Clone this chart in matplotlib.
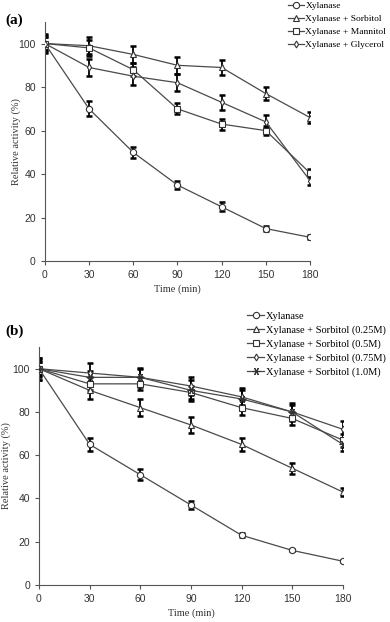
import matplotlib
matplotlib.use('Agg')
import matplotlib.pyplot as plt
import numpy as np

# Время инкубации (мин)
time_min = [0, 30, 60, 90, 120, 150, 180]

# Панель (a)
a_labels = ['Xylanase', 'Xylanase + Sorbitol', 'Xylanase + Mannitol', 'Xylanase + Glycerol']
a_xyl = [100, 70, 50, 35, 25, 15, 11]
a_xyl_err = [3, 3.5, 2.5, 2, 2, 1, 1]
a_sorb = [100, 99, 95, 90, 89, 77, 66]
a_sorb_err = [3, 4, 4, 4, 3.5, 3, 2.5]
a_mann = [100, 98, 88, 70, 63, 60, 40.5]
a_mann_err = [4, 3.5, 3, 2.5, 2.5, 2, 2]
a_glyc = [100, 89, 85, 82, 73, 64, 37]
a_glyc_err = [4.5, 4, 4, 4, 3.5, 3, 2]

# Панель (b)
b_labels = ['Xylanase', 'Xylanase + Sorbitol (0.25M)', 'Xylanase + Sorbitol (0.5M)',
            'Xylanase + Sorbitol (0.75M)', 'Xylanase + Sorbitol (1.0M)']
b_xyl = [100, 65, 51, 37, 23, 16, 11]
b_xyl_err = [5, 3, 2.5, 2, 1, 0.5, 0.5]
b_s025 = [100, 90, 82, 74, 65, 54, 43]
b_s025_err = [4, 4, 4, 3.5, 3, 2.5, 2]
b_s05 = [100, 93, 93, 89, 82, 77, 67]
b_s05_err = [3, 3, 3, 3, 3.5, 3, 3]
b_s075 = [100, 98, 96, 92, 87, 80, 72]
b_s075_err = [5, 4.5, 4.5, 4, 4, 4, 4]
b_s10 = [100, 96, 96, 90, 86, 80, 65]
b_s10_err = [3, 3, 4, 5, 4, 3, 3]

serif = 'Liberation Serif'
sans = 'Liberation Sans'
line_col = '#4a4a4a'

fig = plt.figure(figsize=(3.9, 6.22), dpi=100)
ax_a = fig.add_axes([0.115, 0.580, 0.68, 0.385])
ax_b = fig.add_axes([0.100, 0.0595, 0.779, 0.3825])

sizes = {'o': 4.5, '^': 4.5, 's': 4.5, 'd': 3.5, (6, 2, 90): 5.5}


def draw(ax, series, labels, markers, legend_size, legend_anchor, spacing, ylab_x):
    handles = []
    for (vals, errs), lab, m in zip(series, labels, markers):
        ax.errorbar(time_min, vals, yerr=errs, fmt='none', ecolor='black',
                    elinewidth=1.3, capsize=2, capthick=1.8, zorder=2)
        h, = ax.plot(time_min, vals, color=line_col, lw=0.9, marker=m,
                     markersize=sizes[m], markerfacecolor='white',
                     markeredgecolor='#333333', markeredgewidth=0.8,
                     label=lab, zorder=3)
        handles.append(h)
    ax.set_xlim(0, 180)
    ax.set_ylim(0, 110)
    ax.set_xticks(np.arange(0, 181, 30))
    ax.set_yticks(np.arange(0, 101, 20))
    for s in ['top', 'right']:
        ax.spines[s].set_visible(False)
    for s in ['left', 'bottom']:
        ax.spines[s].set_color('#555555')
        ax.spines[s].set_linewidth(0.8)
    ax.tick_params(direction='out', length=3, width=0.8, color='#555555',
                   labelsize=7.5, labelcolor='#333333')
    for t in ax.get_xticklabels() + ax.get_yticklabels():
        t.set_fontfamily(sans)
    ax.set_xlabel('Time (min)', fontfamily=serif, fontsize=7.5, color='#333333', labelpad=3)
    ax.set_ylabel('Relative activity (%)', fontfamily=serif, fontsize=7.5, color='#333333')
    ax.yaxis.set_label_coords(ylab_x, 0.5)
    leg = fig.legend(handles=handles, loc='upper right', bbox_to_anchor=legend_anchor,
                     frameon=False, prop={'family': serif, 'size': legend_size},
                     handlelength=1.6, handletextpad=0.2, labelspacing=spacing,
                     borderpad=0.2, borderaxespad=0)
    return leg


draw(ax_a,
     [(a_xyl, a_xyl_err), (a_sorb, a_sorb_err), (a_mann, a_mann_err), (a_glyc, a_glyc_err)],
     a_labels, ['o', '^', 's', 'd'], 6.8, (0.995, 1.0), 0.45, -0.09)
fig.text(0.015, 0.962, '(a)', fontfamily=serif, fontweight='bold', fontsize=11)

draw(ax_b,
     [(b_xyl, b_xyl_err), (b_s025, b_s025_err), (b_s05, b_s05_err),
      (b_s075, b_s075_err), (b_s10, b_s10_err)],
     b_labels, ['o', '^', 's', 'd', (6, 2, 90)], 7.5, (0.995, 0.502), 0.42, -0.092)
fig.text(0.015, 0.462, '(b)', fontfamily=serif, fontweight='bold', fontsize=11)

plt.savefig('out.png', dpi=100)
